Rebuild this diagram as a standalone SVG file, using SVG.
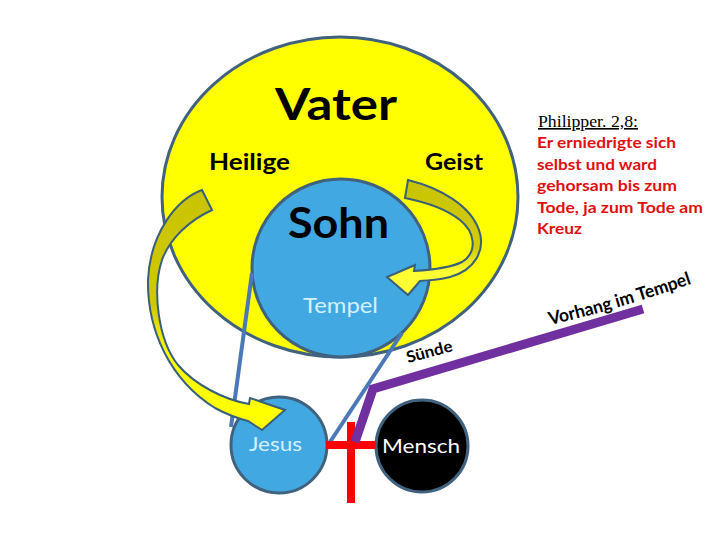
<svg xmlns="http://www.w3.org/2000/svg" width="720" height="540" viewBox="0 0 720 540">
<defs>
<linearGradient id="gLeft" gradientUnits="userSpaceOnUse" x1="0" y1="190" x2="0" y2="420">
<stop offset="0" stop-color="#c9c400"/><stop offset="0.5" stop-color="#cfc900"/><stop offset="0.72" stop-color="#ffff00"/><stop offset="1" stop-color="#ffff00"/>
</linearGradient>
<linearGradient id="gRight" gradientUnits="userSpaceOnUse" x1="0" y1="180" x2="0" y2="295">
<stop offset="0" stop-color="#c9c400"/><stop offset="0.6" stop-color="#d2cc10"/><stop offset="0.8" stop-color="#ffff33"/><stop offset="1" stop-color="#ffff33"/>
</linearGradient>
<path id="vorhangPath" d="M550,325 Q620,309 699,281"/>
<style>
.lbl{font-family:Lato,"Open Sans","DejaVu Sans",sans-serif;font-weight:bold;fill:#000}
.edge{stroke:#41627e;stroke-width:3}
.arrow{stroke:#3a5f7a;stroke-width:2;stroke-linejoin:miter}
.bline{stroke:#4a78b8;stroke-width:4;fill:none}
.red{font-family:Lato,"Open Sans","DejaVu Sans",sans-serif;font-weight:bold;font-size:15.5px;fill:#e01010}
</style>
</defs>
<rect width="720" height="540" fill="#fff"/>

<g id="vater">
<ellipse cx="340" cy="197" rx="178" ry="160" fill="#ffff00" class="edge"/>
<text class="lbl" x="275" y="120" font-size="44" textLength="122" lengthAdjust="spacingAndGlyphs">Vater</text>
<text class="lbl" x="209" y="170" font-size="23" textLength="81" lengthAdjust="spacingAndGlyphs">Heilige</text>
<text class="lbl" x="425" y="170" font-size="23" textLength="58" lengthAdjust="spacingAndGlyphs">Geist</text>
</g>

<g id="sohn">
<circle cx="341" cy="268" r="89" fill="#42a8e2" class="edge"/>
<text class="lbl" x="288" y="238" font-size="42" textLength="101" lengthAdjust="spacingAndGlyphs">Sohn</text>
<text class="lbl" x="303" y="313" font-size="21" style="font-weight:normal;fill:#d4f0fa" textLength="75" lengthAdjust="spacingAndGlyphs">Tempel</text>
</g>

<g id="geist-arrow">
<path class="arrow" fill="url(#gRight)" d="M408,180 C440,188 470,205 479,230 C486,250 475,270 450,277 C440,280 430,280 420,281 L408,295 L387,277 L415,265 L414,271 C430,270 450,268 462,262 C478,252 475,232 460,220 C445,208 425,202 405,198 Z"/>
</g>

<g id="jesus">
<circle cx="279" cy="445" r="48" fill="#42a8e2" class="edge"/>
<text class="lbl" x="249" y="451" font-size="19" style="font-weight:normal;fill:#d4f0fa" textLength="53" lengthAdjust="spacingAndGlyphs">Jesus</text>
</g>

<g id="mensch">
<circle cx="422" cy="446" r="46" fill="#000" class="edge"/>
<text class="lbl" x="382" y="453" font-size="20" style="font-weight:normal;fill:#fff" textLength="78" lengthAdjust="spacingAndGlyphs">Mensch</text>
</g>

<g id="connectors">
<line class="bline" x1="252" y1="273" x2="231" y2="427"/>
<line class="bline" x1="402" y1="333" x2="330" y2="442"/>
<path class="arrow" fill="url(#gLeft)" d="M202,190 C175,200 150,235 148,280 C147,330 170,380 215,408 C228,415 240,419 248,421 L262,430 L285,410 L250,398 L249,404 C225,400 195,385 178,365 C158,340 152,290 162,260 C170,238 190,220 212,210 Z"/>
<line x1="351" y1="422" x2="351" y2="503" stroke="#ff0000" stroke-width="8"/>
<line x1="326" y1="445" x2="376" y2="445" stroke="#ff0000" stroke-width="8"/>
<polyline points="355,442 373,389 643,309" fill="none" stroke="#7030a0" stroke-width="9" stroke-linejoin="miter"/>
</g>

<g id="labels">
<text class="lbl" font-size="16" transform="translate(408,363) rotate(-15)" textLength="47" lengthAdjust="spacingAndGlyphs">Sünde</text>
<text class="lbl" font-size="18"><textPath href="#vorhangPath" textLength="148" lengthAdjust="spacingAndGlyphs">Vorhang im Tempel</textPath></text>
</g>

<g id="verse">
<text x="538" y="127" style="font-family:'Liberation Serif','DejaVu Serif',serif;font-size:16px;fill:#000;text-decoration:underline" textLength="100" lengthAdjust="spacingAndGlyphs">Philipper. 2,8:</text>
<text class="red" x="537" y="148" textLength="139" lengthAdjust="spacingAndGlyphs">Er erniedrigte sich</text>
<text class="red" x="537" y="170" textLength="120" lengthAdjust="spacingAndGlyphs">selbst und ward</text>
<text class="red" x="537" y="191" textLength="140" lengthAdjust="spacingAndGlyphs">gehorsam bis zum</text>
<text class="red" x="537" y="213" textLength="166" lengthAdjust="spacingAndGlyphs">Tode, ja zum Tode am</text>
<text class="red" x="537" y="234" textLength="45" lengthAdjust="spacingAndGlyphs">Kreuz</text>
</g>
</svg>
